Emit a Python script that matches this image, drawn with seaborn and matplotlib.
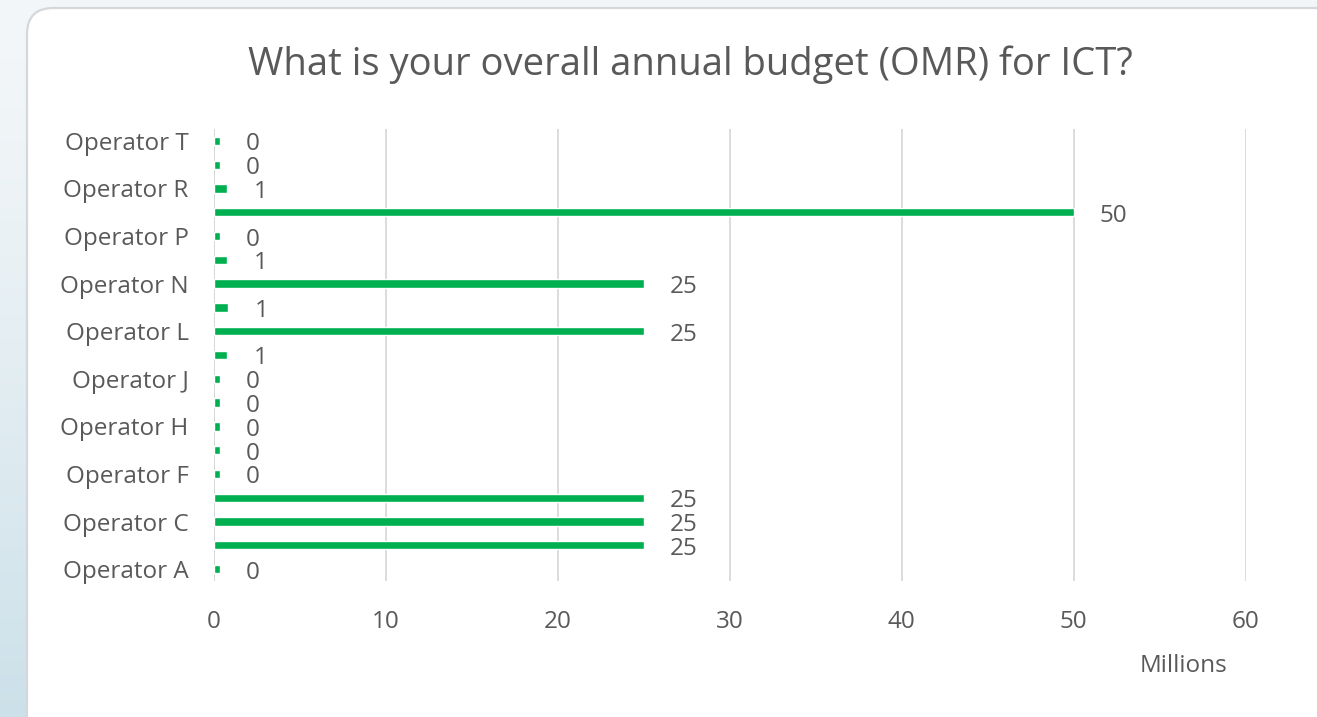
import numpy as np
import pandas as pd
import matplotlib
matplotlib.use("Agg")
import matplotlib.pyplot as plt
from matplotlib.patches import FancyBboxPatch
import seaborn as sns

# Survey answers, listed top to bottom as they appear on the chart
operators = ["Operator T", "Operator S", "Operator R", "Operator Q", "Operator P",
             "Operator O", "Operator N", "Operator M", "Operator L", "Operator K",
             "Operator J", "Operator I", "Operator H", "Operator G", "Operator F",
             "Operator D", "Operator C", "Operator B", "Operator A"]
budget_millions = [0.35, 0.35, 0.8, 50, 0.35,
                   0.8, 25, 0.85, 25, 0.8,
                   0.35, 0.35, 0.35, 0.35, 0.35,
                   25, 25, 25, 0.35]
x_ticks = [0, 10, 20, 30, 40, 50, 60]

title = "What is your overall annual budget (OMR) for ICT?"
bar_color = "#00B050"
text_color = "#595959"
grid_color = "#D9D9D9"

df = pd.DataFrame({"operator": operators, "budget": budget_millions})

sns.set_theme(style="white")
plt.rcParams["font.family"] = ["Open Sans", "DejaVu Sans"]

W, H = 1317, 717
fig = plt.figure(figsize=(W / 100, H / 100), dpi=100)

# Soft blue backdrop behind the card
bg = fig.add_axes([0, 0, 1, 1], zorder=0)
grad = np.linspace(0, 1, 256).reshape(-1, 1)
top_c = np.array([0.955, 0.968, 0.976])
bot_c = np.array([0.80, 0.88, 0.915])
img = top_c + (bot_c - top_c) * grad[..., None] ** 1.3
bg.imshow(img, aspect="auto", extent=[0, 1, 0, 1], origin="upper")
bg.set_xlim(0, 1)
bg.set_ylim(0, 1)
bg.axis("off")

# White rounded card
card = FancyBboxPatch((27 / W, -30 / H), (W + 40) / W, (H - 8 + 30) / H,
                      boxstyle="round,pad=0,rounding_size=0.02",
                      transform=bg.transAxes, facecolor="white",
                      edgecolor="#D4D8DB", linewidth=1.6, mutation_aspect=W / H,
                      zorder=1)
bg.add_patch(card)

# Plot area
left, right = 213.5, 1245.5
top, bottom = 129, 581
ax = fig.add_axes([left / W, (H - bottom) / H, (right - left) / W, (bottom - top) / H],
                  zorder=2)
ax.patch.set_alpha(0)

sns.barplot(data=df, x="budget", y="operator", order=operators, orient="h",
            color=bar_color, saturation=1, width=0.35, ax=ax)

ax.set_xlim(0, 60)
ax.set_ylim(len(operators) - 0.5, -0.5)
ax.set_xticks(x_ticks)
ax.set_xticklabels([str(t) for t in x_ticks])
ax.grid(axis="x", color=grid_color, linewidth=1.3)
ax.set_axisbelow(True)
for s in ax.spines.values():
    s.set_visible(False)
ax.axvline(0, color="#BFBFBF", linewidth=1.3, zorder=0)

label_size = 17.5

# Only every other category carries a tick label
pos = list(range(len(operators)))
ax.set_yticks(pos)
ax.set_yticklabels([lab if i % 2 == 0 else "" for i, lab in enumerate(operators)])
ax.tick_params(axis="y", length=0, pad=18, labelsize=label_size, labelcolor=text_color)
ax.tick_params(axis="x", length=0, pad=21, labelsize=label_size, labelcolor=text_color)
ax.set_xlabel("")
ax.set_ylabel("")

# Value labels beyond each bar end
for i, v in enumerate(budget_millions):
    ax.annotate(f"{v:.0f}", xy=(v, i), xytext=(19, -2.5), textcoords="offset points",
                ha="left", va="center", fontsize=label_size, color=text_color)

fig.text(1184 / W, 1 - 666 / H, "Millions", ha="center", va="center",
         fontsize=label_size, color=text_color, zorder=3)
fig.text(690 / W, 1 - 65 / H, title, ha="center", va="center",
         fontsize=27.5, color=text_color, zorder=3)

fig.savefig("out.png", dpi=100)
